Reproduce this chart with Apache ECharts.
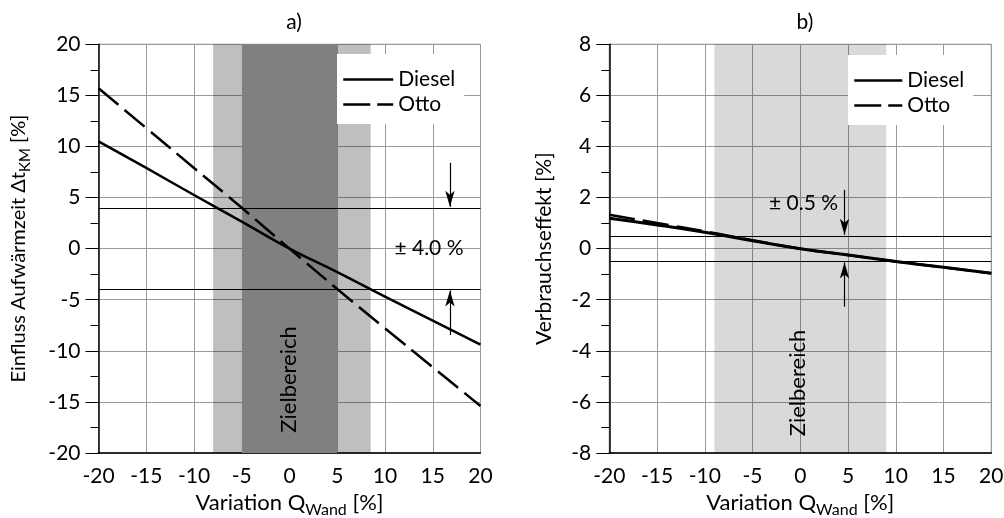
<!DOCTYPE html>
<html><head><meta charset="utf-8">
<script src="https://cdn.jsdelivr.net/npm/echarts@6/dist/echarts.min.js"></script>
<style>html,body{margin:0;padding:0;background:#fff}#c{width:1004px;height:518px}</style>
</head><body><div id="c"></div>
<script>
// ---- data ----
const xValues = [-20, -15, -10, -5, 0, 5, 10, 15, 20];
const dieselA = [10.5, 7.9, 5.25, 2.65, 0, -2.3, -4.7, -7.05, -9.4];
const ottoA   = [15.7, 11.8, 7.9, 4.0, 0, -3.95, -7.8, -11.6, -15.4];
const dieselB = [1.19, 0.93, 0.64, 0.31, 0, -0.25, -0.5, -0.73, -0.96];
const ottoB   = [1.33, 1.0, 0.68, 0.33, 0, -0.25, -0.5, -0.73, -0.96];
const xRange = [-20, 20, 5];
const yRangeA = [-20, 20, 5];
const yRangeB = [-8, 8, 2];
const zielA_outer = [-8, 8.5];
const zielA_inner = [-5, 5];
const zielB = [-9, 9];
const tolA = 4.0;
const tolB = 0.5;
const titles = ['a)', 'b)'];
const seriesNames = ['Diesel', 'Otto'];

const FONT = 'Lato';
const GRID_COL = '#9a9a9a';
const DASH = [26, 8];

function pairs(ys) { return xValues.map((x, i) => [x, ys[i]]); }

function xAxis(idx) {
  return {
    type: 'value', gridIndex: idx, min: xRange[0], max: xRange[1], interval: xRange[2],
    axisLine: { show: true, onZero: false, lineStyle: { color: '#000', width: 1.5 } },
    axisTick: { show: false },
    axisLabel: { color: '#000', fontFamily: FONT, fontSize: 21, margin: 13 },
    splitLine: { show: true, lineStyle: { color: GRID_COL, width: 1 } },
    name: 'Variation Q{sub|Wand} [%]', nameLocation: 'middle', nameGap: 30,
    nameTextStyle: { color: '#000', fontFamily: FONT, fontSize: 22,
      rich: { sub: { fontFamily: FONT, fontSize: 16, color: '#000', padding: [14, 0, 0, 0] } } }
  };
}
function yAxis(idx, r, name, gap, fs) {
  return {
    type: 'value', gridIndex: idx, min: r[0], max: r[1], interval: r[2],
    axisLine: { show: true, onZero: false, lineStyle: { color: '#000', width: 1.5 } },
    axisTick: { show: true, length: 13, lineStyle: { color: '#000', width: 1 } },
    minorTick: { show: true, splitNumber: 2, length: 8, lineStyle: { color: '#000', width: 1 } },
    axisLabel: { color: '#000', fontFamily: FONT, fontSize: 21, margin: 18 },
    splitLine: { show: true, lineStyle: { color: GRID_COL, width: 1 } },
    name: name, nameLocation: 'middle', nameGap: gap, nameRotate: 90,
    nameTextStyle: { color: '#000', fontFamily: FONT, fontSize: fs,
      rich: { sub: { fontFamily: FONT, fontSize: 15, color: '#000', padding: [12, 0, 0, 0] } } }
  };
}

function arrow(x, yFrom, yTo) {
  return [
    { coord: [x, yFrom], symbol: 'none' },
    { coord: [x, yTo], symbol: 'arrow', symbolSize: [7, 16] }
  ];
}

function legend(left, top, iw) {
  return {
    data: [
      { name: seriesNames[0], lineStyle: { color: '#000', width: 2.5, type: 'solid' } },
      { name: seriesNames[1], lineStyle: { color: '#000', width: 2.5, type: [27, 7] } }
    ],
    orient: 'vertical', left: left, top: top, backgroundColor: '#fff',
    padding: [15, 9, 9, 5], itemWidth: iw, itemHeight: 14, itemGap: 4,
    itemStyle: { opacity: 0 },
    textStyle: { fontFamily: FONT, fontSize: 21, color: '#000' }, selectedMode: false
  };
}

const option = {
  animation: false,
  backgroundColor: '#fff',
  title: [
    { text: titles[0], left: 289, top: 7, textAlign: 'center', textStyle: { fontFamily: FONT, fontSize: 21, fontWeight: 'normal', color: '#000' } },
    { text: titles[1], left: 800, top: 7, textAlign: 'center', textStyle: { fontFamily: FONT, fontSize: 21, fontWeight: 'normal', color: '#000' } }
  ],
  grid: [
    { left: 98.5, top: 44.3, width: 382, height: 408.7, show: true, borderColor: '#777', borderWidth: 1, outerBoundsMode: 'none', containLabel: false },
    { left: 609.3, top: 44.3, width: 382, height: 408.7, show: true, borderColor: '#777', borderWidth: 1, outerBoundsMode: 'none', containLabel: false }
  ],
  legend: [legend(337, 54, 50), legend(848, 55, 48)],
  xAxis: [xAxis(0), xAxis(1)],
  yAxis: [
    yAxis(0, yRangeA, 'Einfluss Aufwärmzeit Δt{sub|KM} [%]', 66, 20),
    yAxis(1, yRangeB, 'Verbrauchseffekt [%]', 55, 21)
  ],
  series: [
    {
      name: seriesNames[0], type: 'line', xAxisIndex: 0, yAxisIndex: 0, data: pairs(dieselA),
      smooth: true, symbol: 'none', z: 5, itemStyle: { color: '#000' }, lineStyle: { color: '#000', width: 2.5 },
      markArea: {
        silent: true,
        data: [
          [{ coord: [zielA_outer[0], yRangeA[0]], itemStyle: { color: 'rgba(0,0,0,0.25)' } }, { coord: [zielA_inner[0], yRangeA[1]] }],
          [{ coord: [zielA_inner[1], yRangeA[0]], itemStyle: { color: 'rgba(0,0,0,0.25)' } }, { coord: [zielA_outer[1], yRangeA[1]] }],
          [{ coord: [zielA_inner[0], yRangeA[0]], itemStyle: { color: '#808080' } }, { coord: [zielA_inner[1], yRangeA[1]] }]
        ]
      },
      markLine: {
        silent: true, symbol: 'none', label: { show: false },
        lineStyle: { color: '#000', width: 1.2, type: 'solid' },
        data: [
          [{ coord: [xRange[0], tolA] }, { coord: [xRange[1], tolA] }],
          [{ coord: [xRange[0], -tolA] }, { coord: [xRange[1], -tolA] }],
          arrow(16.8, 8.4, tolA + 0.1),
          arrow(16.8, -8.45, -tolA - 0.1)
        ]
      },
      markPoint: {
        silent: true, symbol: 'circle', symbolSize: 0,
        data: [
          { coord: [14.6, 0], label: { show: true, formatter: '± ' + tolA.toFixed(1) + ' %', position: 'inside', fontFamily: FONT, fontSize: 21, color: '#000' } },
          { coord: [-0.1, -12.8], label: { show: true, formatter: 'Zielbereich', rotate: 90, position: 'inside', fontFamily: FONT, fontSize: 22, color: '#000' } }
        ]
      }
    },
    {
      name: seriesNames[1], type: 'line', xAxisIndex: 0, yAxisIndex: 0, data: pairs(ottoA),
      smooth: true, symbol: 'none', z: 5, itemStyle: { color: '#000' }, lineStyle: { color: '#000', width: 2.5, type: DASH }
    },
    {
      name: seriesNames[0], type: 'line', xAxisIndex: 1, yAxisIndex: 1, data: pairs(dieselB),
      smooth: true, symbol: 'none', z: 5, itemStyle: { color: '#000' }, lineStyle: { color: '#000', width: 3 },
      markArea: {
        silent: true,
        data: [
          [{ coord: [zielB[0], yRangeB[0]], itemStyle: { color: 'rgba(0,0,0,0.15)' } }, { coord: [zielB[1], yRangeB[1]] }]
        ]
      },
      markLine: {
        silent: true, symbol: 'none', label: { show: false },
        lineStyle: { color: '#000', width: 1.2, type: 'solid' },
        data: [
          [{ coord: [xRange[0], tolB] }, { coord: [xRange[1], tolB] }],
          [{ coord: [xRange[0], -tolB] }, { coord: [xRange[1], -tolB] }],
          arrow(4.63, 2.3, tolB + 0.04),
          arrow(4.63, -2.27, -tolB - 0.04)
        ]
      },
      markPoint: {
        silent: true, symbol: 'circle', symbolSize: 0,
        data: [
          { coord: [0.34, 1.78], label: { show: true, formatter: '± ' + tolB.toFixed(1) + ' %', position: 'inside', fontFamily: FONT, fontSize: 21, color: '#000' } },
          { coord: [-0.2, -5.26], label: { show: true, formatter: 'Zielbereich', rotate: 90, position: 'inside', fontFamily: FONT, fontSize: 22, color: '#000' } }
        ]
      }
    },
    {
      name: seriesNames[1], type: 'line', xAxisIndex: 1, yAxisIndex: 1, data: pairs(ottoB),
      smooth: true, symbol: 'none', z: 5, itemStyle: { color: '#000' }, lineStyle: { color: '#000', width: 2.5, type: DASH }
    }
  ]
};
const chart = echarts.init(document.getElementById('c'), null, { renderer: 'canvas' });
chart.setOption(option);
</script>
</body></html>
